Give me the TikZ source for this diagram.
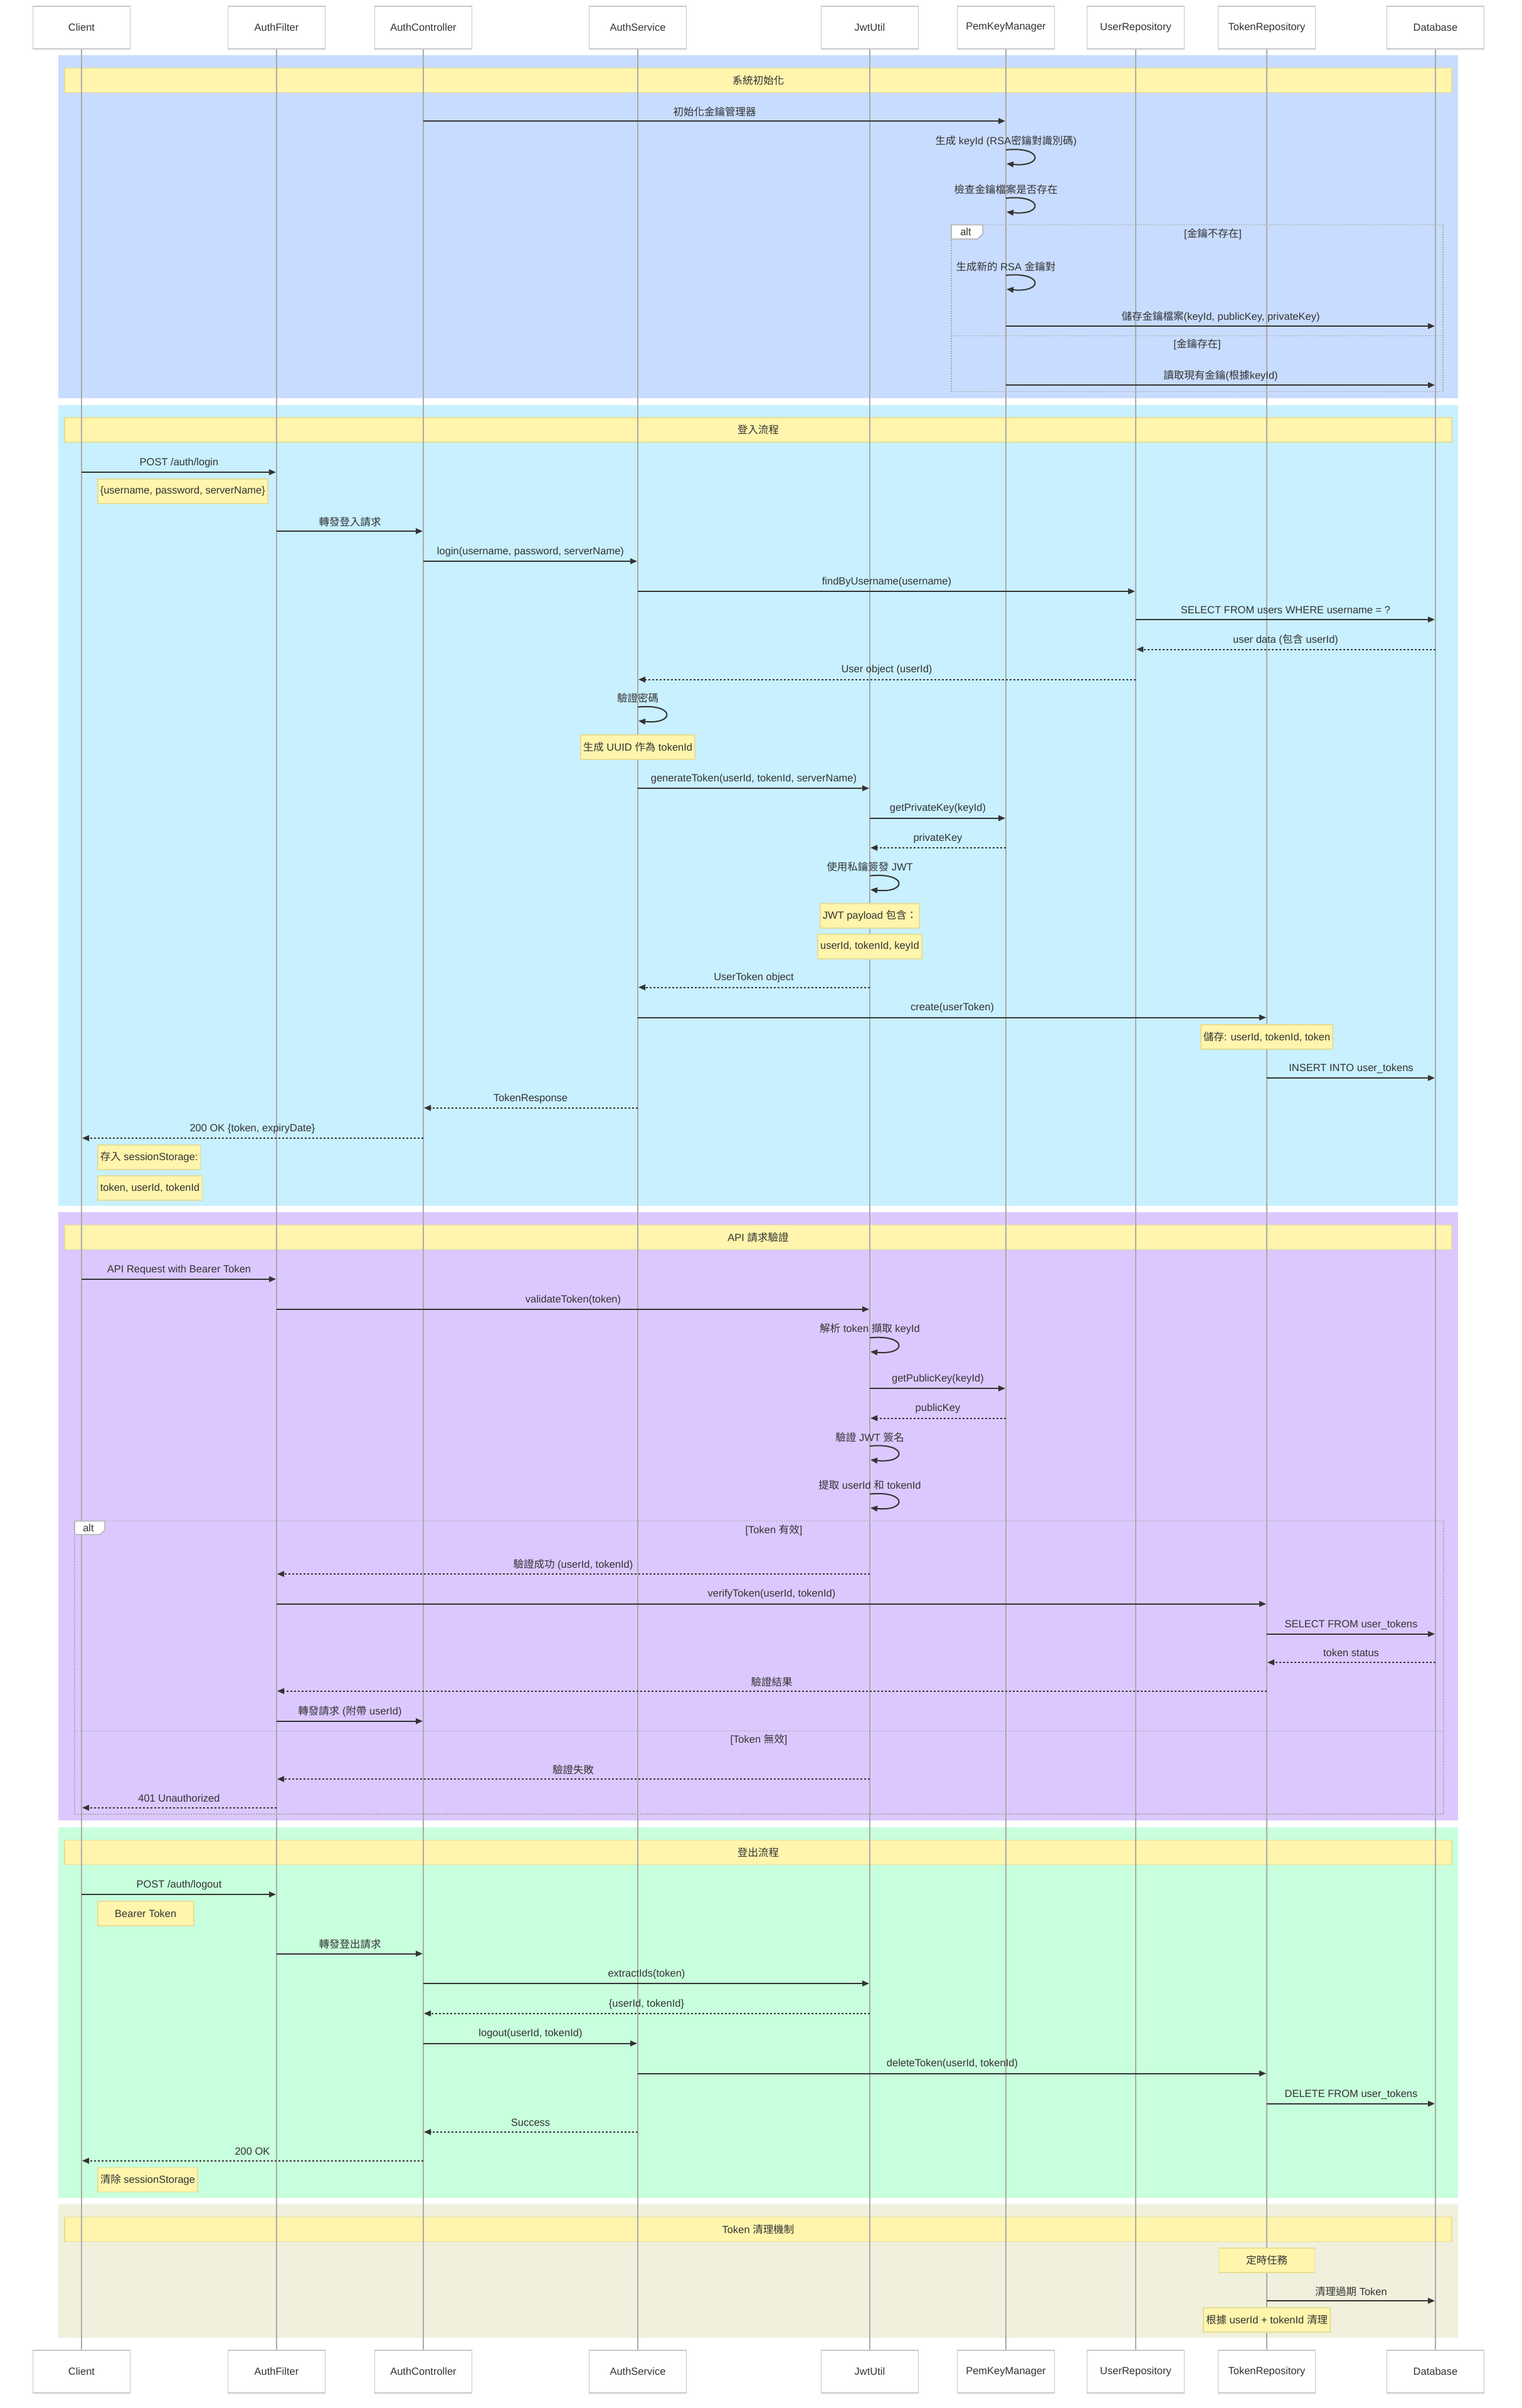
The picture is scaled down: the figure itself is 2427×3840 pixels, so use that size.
\documentclass[tikz,border=0pt]{standalone}
\usepackage{fontspec}
\setmainfont{Liberation Sans}
\newfontfamily\zhfont{Noto Sans CJK TC}
\newcommand\zh[1]{{\zhfont #1}}
\usetikzlibrary{arrows.meta,calc}
\definecolor{ink}{HTML}{333333}
\definecolor{secinit}{RGB}{200,220,255}
\definecolor{seclogin}{RGB}{200,240,255}
\definecolor{secapi}{RGB}{220,200,255}
\definecolor{seclogout}{RGB}{200,255,220}
\definecolor{secclean}{RGB}{240,240,220}
\definecolor{notefill}{HTML}{FFF5AD}
\definecolor{noteedge}{RGB}{230,222,150}
\definecolor{lifegray}{HTML}{AAAAAA}
\newcount\msgno
\newcount\notenum
\tikzset{
  >={Triangle[length=11pt,width=9pt]},
  every node/.style={font=\fontsize{16.5}{19}\selectfont,text=ink},
  actorbox/.style={draw=black!22,fill=white,line width=1.5pt,minimum width=155pt,
                   minimum height=68pt,inner sep=0pt},
  lifeline/.style={draw=lifegray,line width=1.5pt},
  titlebar/.style={draw=noteedge,fill=notefill,line width=1.5pt,minimum width=2212pt,
                   minimum height=39pt,inner sep=0pt},
  notebox/.style={draw=noteedge,fill=notefill,line width=1.5pt,minimum width=153pt,
                  minimum height=39pt,inner xsep=4pt,inner ysep=0pt},
  callline/.style={->,draw=ink,line width=2pt,shorten >=1pt},
  retline/.style={callline,dash pattern=on 3pt off 3pt},
  msglabel/.style={inner sep=0pt,yshift=15pt},
  selflabel/.style={inner sep=0pt,yshift=14pt},
  altframe/.style={draw=black!35,line width=1.5pt,dash pattern=on 2pt off 2pt},
  alttab/.style={draw=black!30,fill=white,line width=1.5pt},
}
% messages: from, to, y, label
\newcommand\sendmsg[4]{%
  \global\advance\msgno by 1
  \draw[callline] (#1 |- 0,#3) -- node[midway,msglabel] (msg\the\msgno) {#4} (#2 |- 0,#3);}
\newcommand\replymsg[4]{%
  \global\advance\msgno by 1
  \draw[retline] (#1 |- 0,#3) -- node[midway,msglabel] (msg\the\msgno) {#4} (#2 |- 0,#3);}
\newcommand\selfmsg[3]{%
  \global\advance\msgno by 1
  \pgfmathsetmacro\loopend{#2+22}%
  \draw[callline] (#1 |- 0,#2) .. controls +(60,-6) and +(60,6) .. (#1 |- 0,\loopend);
  \node[selflabel] (msg\the\msgno) at (#1 |- 0,#2) {#3};}
% notes: lifeline, top y, text
\newcommand\noteright[3]{%
  \global\advance\notenum by 1
  \node[notebox,anchor=north west] (note\the\notenum) at ($(#1 |- 0,#2)+(25,0)$) {#3};}
\newcommand\noteover[3]{%
  \global\advance\notenum by 1
  \node[notebox,anchor=north] (note\the\notenum) at (#1 |- 0,#2) {#3};}

\begin{document}
\begin{tikzpicture}[x=1pt,y=-1pt]
  \fill[white] (0,0) rectangle (2427,3840);

  % coloured blocks
  \fill[secinit]   (93,88)   rectangle (2325,635);
  \fill[seclogin]  (93,646)  rectangle (2325,1923);
  \fill[secapi]    (93,1933) rectangle (2325,2903);
  \fill[seclogout] (93,2914) rectangle (2325,3505);
  \fill[secclean]  (93,3515) rectangle (2325,3728);

  \node[titlebar] (tinit)   at (1209,128)  {\zh{系統初始化}};
  \node[titlebar] (tlogin)  at (1209,685.5) {\zh{登入流程}};
  \node[titlebar] (tapi)    at (1209,1973) {API \zh{請求驗證}};
  \node[titlebar] (tlogout) at (1209,2954) {\zh{登出流程}};
  \node[titlebar] (tclean)  at (1209,3555) {Token \zh{清理機制}};

  % participants
  \foreach \nm/\lbl/\px in {client/Client/130,filter/AuthFilter/441,ctrl/AuthController/675,
      svc/AuthService/1017,jwt/JwtUtil/1387,pem/PemKeyManager/1604,
      userrepo/UserRepository/1811,tokenrepo/TokenRepository/2020,db/Database/2289}{
    \node[actorbox] (\nm) at (\px,44) {\lbl};
    \node[actorbox] (\nm-b) at (\px,3782) {\lbl};
    \draw[lifeline] (\nm) -- (\nm-b);
  }

  % system init
  \draw[altframe] (1517,358.6) rectangle (2301,624.6);
  \draw[altframe] (1517,535.7) -- (2301,535.7);
  \draw[alttab] (1517,358.6) -- (1567,358.6) -- (1567,373) -- (1559,381) -- (1517,381) -- cycle;
  \node (alt1) at (1540,370) {alt};
  \node (alt1a) at (1934,373) {[\zh{金鑰不存在}]};
  \node (alt1b) at (1909,549) {[\zh{金鑰存在}]};

  \sendmsg{ctrl}{pem}{193}{\zh{初始化金鑰管理器}}
  \selfmsg{pem}{239}{\zh{生成} keyId (RSA\zh{密鑰對識別碼})}
  \selfmsg{pem}{316}{\zh{檢查金鑰檔案是否存在}}
  \selfmsg{pem}{439}{\zh{生成新的} RSA \zh{金鑰對}}
  \sendmsg{pem}{db}{520}{\zh{儲存金鑰檔案}(keyId, publicKey, privateKey)}
  \sendmsg{pem}{db}{614}{\zh{讀取現有金鑰}(\zh{根據}keyId)}

  % login
  \sendmsg{client}{filter}{753}{POST /auth/login}
  \noteright{client}{763}{\{username, password, serverName\}}
  \sendmsg{filter}{ctrl}{847}{\zh{轉發登入請求}}
  \sendmsg{ctrl}{svc}{895}{login(username, password, serverName)}
  \sendmsg{svc}{userrepo}{943}{findByUsername(username)}
  \sendmsg{userrepo}{db}{988}{SELECT FROM users WHERE username = ?}
  \replymsg{db}{userrepo}{1035.5}{user data (\zh{包含} userId)}
  \replymsg{userrepo}{svc}{1083.7}{User object (userId)}
  \selfmsg{svc}{1127.5}{\zh{驗證密碼}}
  \noteover{svc}{1171}{\zh{生成} UUID \zh{作為} tokenId}
  \sendmsg{svc}{jwt}{1257}{generateToken(userId, tokenId, serverName)}
  \sendmsg{jwt}{pem}{1304.7}{getPrivateKey(keyId)}
  \replymsg{pem}{jwt}{1352}{privateKey}
  \selfmsg{jwt}{1396.6}{\zh{使用私鑰簽發} JWT}
  \noteover{jwt}{1440}{JWT payload \zh{包含：}}
  \noteover{jwt}{1489}{userId, tokenId, keyId}
  \replymsg{jwt}{svc}{1574.5}{UserToken object}
  \sendmsg{svc}{tokenrepo}{1622.6}{create(userToken)}
  \noteover{tokenrepo}{1633}{\zh{儲存}: userId, tokenId, token}
  \sendmsg{tokenrepo}{db}{1719}{INSERT INTO user\_tokens}
  \replymsg{svc}{ctrl}{1766.8}{TokenResponse}
  \replymsg{ctrl}{client}{1815}{200 OK \{token, expiryDate\}}
  \noteright{client}{1825}{\zh{存入} sessionStorage:}
  \noteright{client}{1874}{token, userId, tokenId}

  % api request check
  \sendmsg{client}{filter}{2039.8}{API Request with Bearer Token}
  \sendmsg{filter}{jwt}{2087.8}{validateToken(token)}
  \selfmsg{jwt}{2133.4}{\zh{解析} token \zh{擷取} keyId}
  \sendmsg{jwt}{pem}{2214}{getPublicKey(keyId)}
  \replymsg{pem}{jwt}{2261.5}{publicKey}
  \selfmsg{jwt}{2306}{\zh{驗證} JWT \zh{簽名}}
  \selfmsg{jwt}{2382.5}{\zh{提取} userId \zh{和} tokenId}

  \draw[altframe] (119,2425.6) rectangle (2302,2893);
  \draw[altframe] (119,2760.7) -- (2302,2760.7);
  \draw[alttab] (119,2425.6) -- (167,2425.6) -- (167,2440) -- (160,2447) -- (119,2447) -- cycle;
  \node (alt2) at (141,2437) {alt};
  \node (alt2a) at (1234,2440) {[Token \zh{有效}]};
  \node (alt2b) at (1210,2774) {[Token \zh{無效}]};

  \replymsg{jwt}{filter}{2510}{\zh{驗證成功} (userId, tokenId)}
  \sendmsg{filter}{tokenrepo}{2557.7}{verifyToken(userId, tokenId)}
  \sendmsg{tokenrepo}{db}{2605.7}{SELECT FROM user\_tokens}
  \replymsg{db}{tokenrepo}{2651}{token status}
  \replymsg{tokenrepo}{filter}{2696.7}{\zh{驗證結果}}
  \sendmsg{filter}{ctrl}{2744.7}{\zh{轉發請求} (\zh{附帶} userId)}
  \replymsg{jwt}{filter}{2837}{\zh{驗證失敗}}
  \replymsg{filter}{client}{2882.7}{401 Unauthorized}

  % logout
  \sendmsg{client}{filter}{3021}{POST /auth/logout}
  \noteright{client}{3031}{Bearer Token}
  \sendmsg{filter}{ctrl}{3115.5}{\zh{轉發登出請求}}
  \sendmsg{ctrl}{jwt}{3163}{extractIds(token)}
  \replymsg{jwt}{ctrl}{3210.8}{\{userId, tokenId\}}
  \sendmsg{ctrl}{svc}{3258.6}{logout(userId, tokenId)}
  \sendmsg{svc}{tokenrepo}{3306.5}{deleteToken(userId, tokenId)}
  \sendmsg{tokenrepo}{db}{3354.7}{DELETE FROM user\_tokens}
  \replymsg{svc}{ctrl}{3399.8}{Success}
  \replymsg{ctrl}{client}{3445.7}{200 OK}
  \noteright{client}{3455.6}{\zh{清除} sessionStorage}

  % token cleanup
  \noteover{tokenrepo}{3584}{\zh{定時任務}}
  \sendmsg{tokenrepo}{db}{3669}{\zh{清理過期} Token}
  \noteover{tokenrepo}{3679}{\zh{根據} userId + tokenId \zh{清理}}
\end{tikzpicture}
\end{document}
